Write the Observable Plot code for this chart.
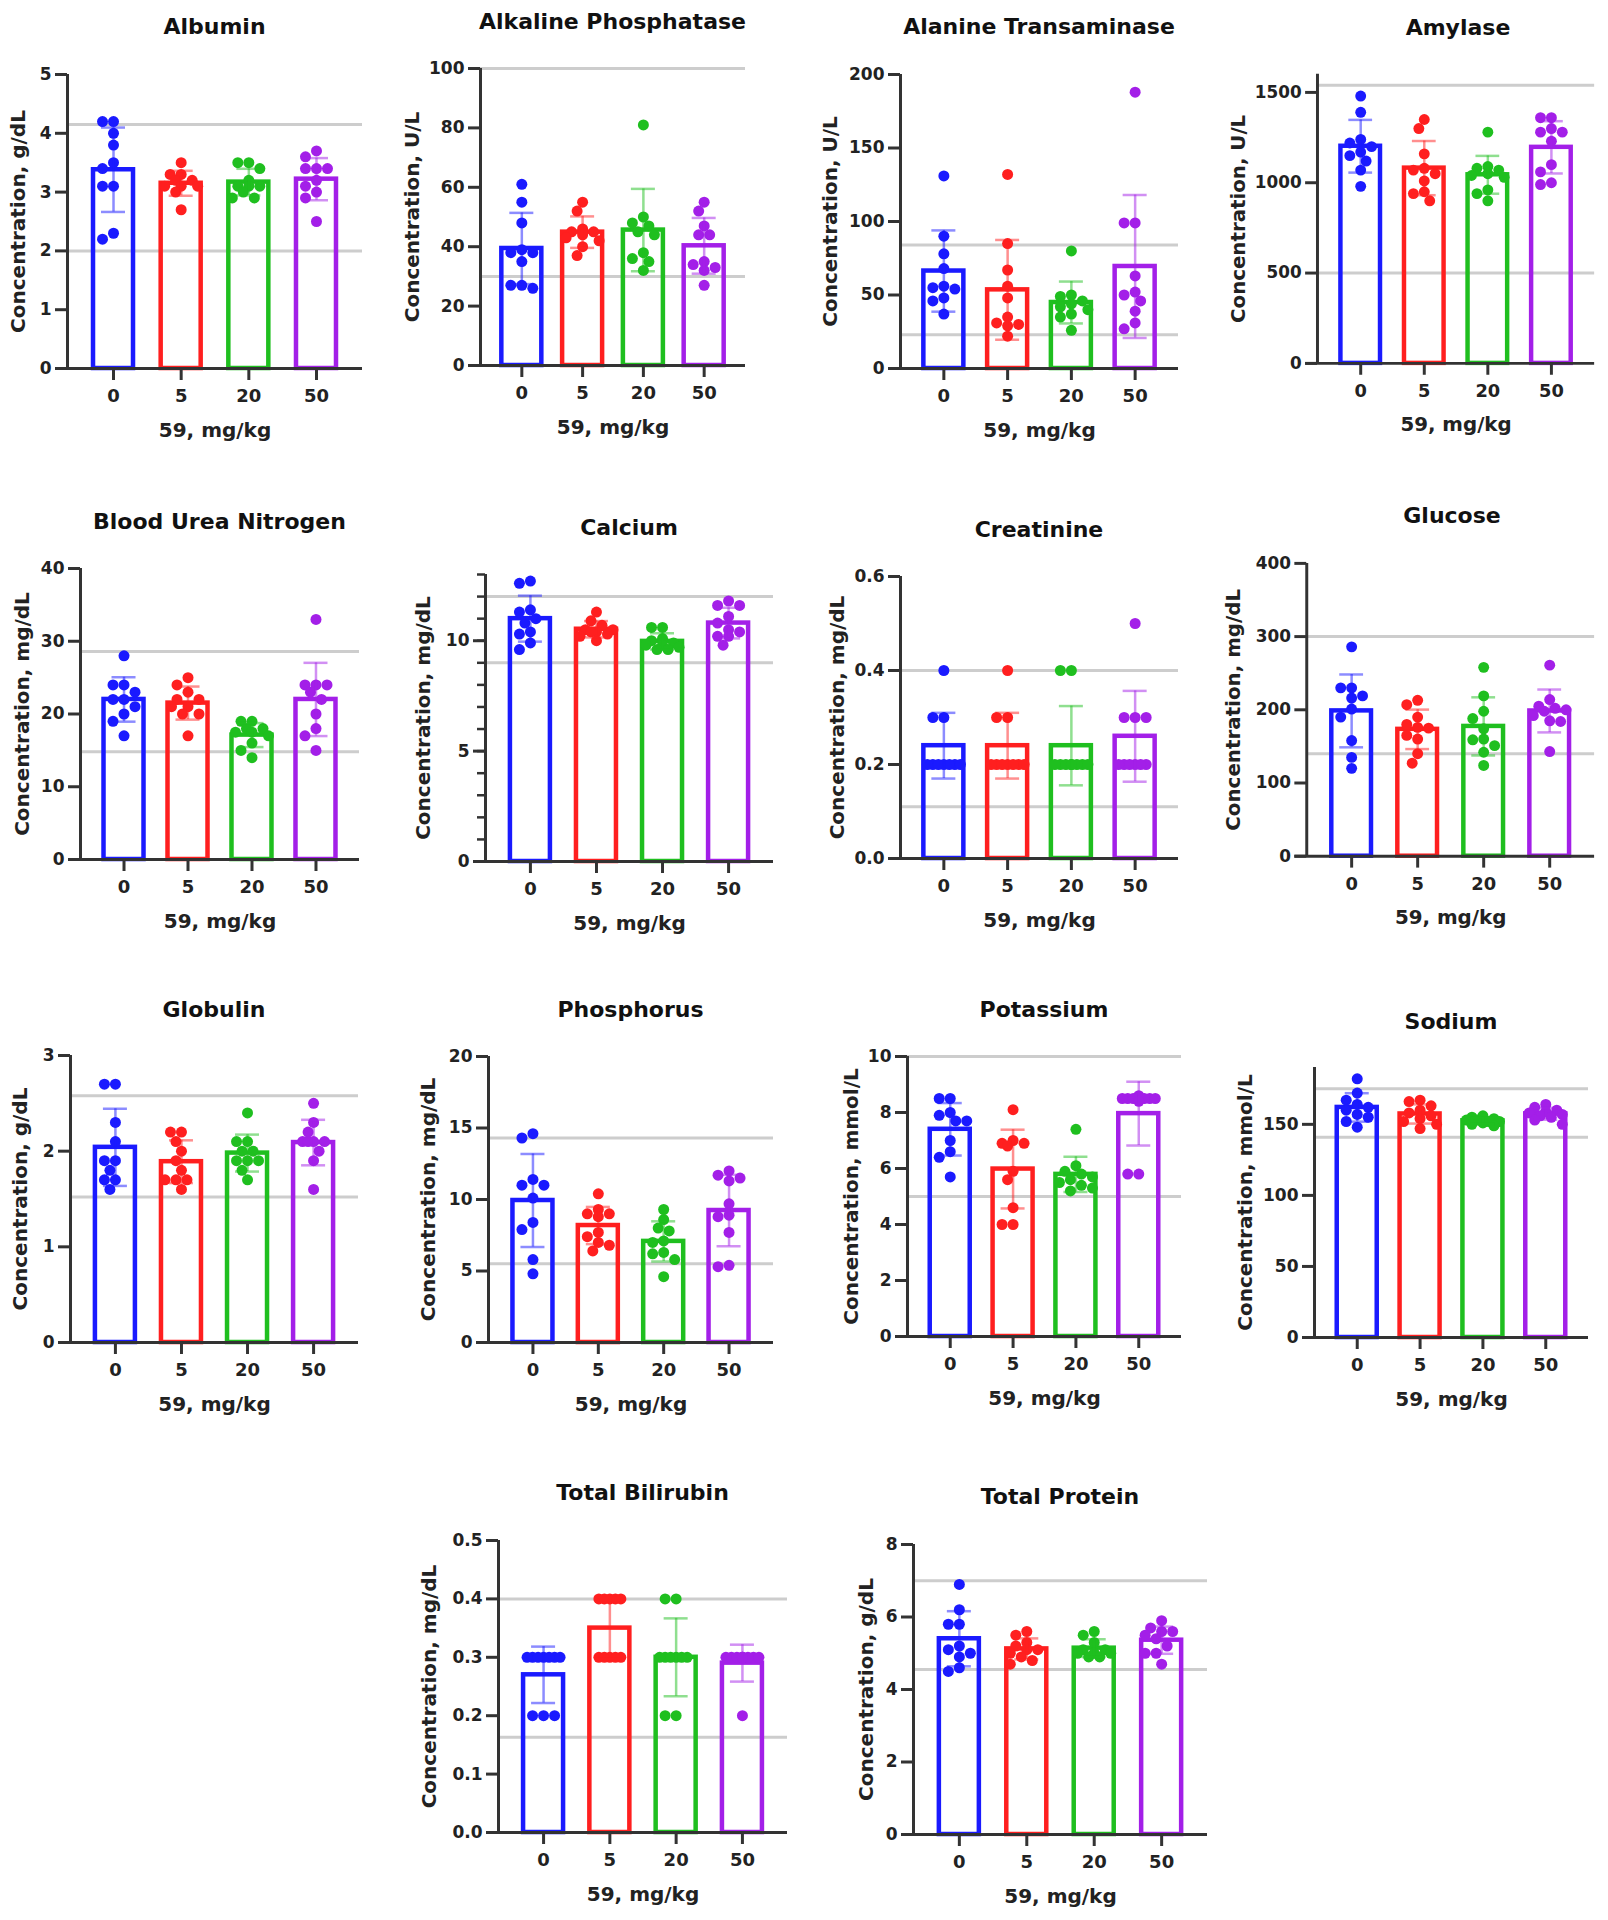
<!DOCTYPE html>
<html>
<head>
<meta charset="utf-8">
<script src="https://cdn.jsdelivr.net/npm/d3@7"></script>
<script src="https://cdn.jsdelivr.net/npm/@observablehq/plot@0.6"></script>
<style>
  body { margin: 0; background: #fff; }
  #page { position: relative; width: 1608px; height: 1920px; overflow: hidden; background: #fff;
          font-family: "DejaVu Sans", Verdana, sans-serif; }
  .panel { position: absolute; }
  .title { position: absolute; width: 440px; text-align: center; font-weight: bold; font-size: 22px;
           line-height: 30px; color: #111; white-space: nowrap; }
</style>
</head>
<body>
<div id="page"></div>
<script>
// ---------------- DATA ----------------
const doses = ["0", "5", "20", "50"];
const xLabel = "59, mg/kg";

const titles = ["Albumin", "Alkaline Phosphatase", "Alanine Transaminase", "Amylase",
  "Blood Urea Nitrogen", "Calcium", "Creatinine", "Glucose",
  "Globulin", "Phosphorus", "Potassium", "Sodium",
  "Total Bilirubin", "Total Protein"];

const units = ["Concentration, g/dL", "Concentration, U/L", "Concentration, U/L", "Concentration, U/L",
  "Concentration, mg/dL", "Concentration, mg/dL", "Concentration, mg/dL", "Concentration, mg/dL",
  "Concentration, g/dL", "Concentration, mg/dL", "Concentration, mmol/L", "Concentration, mmol/L",
  "Concentration, mg/dL", "Concentration, g/dL"];

const yMax = [5, 100, 200, 1600, 40, 13, 0.6, 400, 3, 20, 10, 190, 0.5, 8];

const yTicks = [
  [0, 1, 2, 3, 4, 5], [0, 20, 40, 60, 80, 100], [0, 50, 100, 150, 200], [0, 500, 1000, 1500],
  [0, 10, 20, 30, 40], [0, 5, 10], [0, 0.2, 0.4, 0.6], [0, 100, 200, 300, 400],
  [0, 1, 2, 3], [0, 5, 10, 15, 20], [0, 2, 4, 6, 8, 10], [0, 50, 100, 150],
  [0, 0.1, 0.2, 0.3, 0.4, 0.5], [0, 2, 4, 6, 8]];

const yDecimals = [0, 0, 0, 0, 0, 0, 1, 0, 0, 0, 0, 0, 1, 0];
const calciumMinorTicks = [0, 1, 2, 3, 4, 5, 6, 7, 8, 9, 10, 11, 12, 13];

// grey normal-range reference lines (upper, lower)
const refLines = [[4.15, 2.0], [100, 30], [84, 23], [1540, 500], [28.6, 14.8], [12, 9], [0.4, 0.11],
  [300, 140], [2.58, 1.52], [14.3, 5.5], [10, 5], [175, 141], [0.4, 0.163], [7.0, 4.55]];

// individual animal values, one array per dose group (0, 5, 20, 50 mg/kg)
const albumin = [
  [4.2, 4.2, 4.0, 3.8, 3.5, 3.4, 3.1, 3.1, 2.3, 2.2],
  [3.5, 3.3, 3.3, 3.2, 3.2, 3.1, 3.1, 3.1, 3.0, 2.7],
  [3.5, 3.5, 3.4, 3.2, 3.1, 3.1, 3.1, 3.0, 2.9, 2.9],
  [3.7, 3.6, 3.4, 3.4, 3.4, 3.2, 3.1, 3.0, 2.9, 2.5]];
const alkalinePhosphatase = [
  [61, 55, 48, 39, 38, 38, 35, 27, 27, 26],
  [55, 52, 46, 45, 45, 44, 43, 42, 40, 37],
  [81, 50, 48, 47, 45, 44, 38, 36, 35, 32],
  [55, 52, 47, 44, 44, 35, 34, 33, 32, 27]];
const alanineTransaminase = [
  [131, 90, 78, 68, 56, 55, 54, 48, 46, 37],
  [132, 85, 67, 56, 48, 35, 31, 30, 29, 22],
  [80, 50, 49, 46, 44, 42, 40, 37, 35, 26],
  [188, 99, 99, 63, 52, 50, 46, 39, 31, 27]];
const amylase = [
  [1480, 1390, 1240, 1220, 1200, 1170, 1150, 1120, 1070, 980],
  [1350, 1300, 1160, 1080, 1070, 1050, 1010, 950, 940, 900],
  [1280, 1090, 1080, 1070, 1050, 1040, 1030, 960, 940, 900],
  [1360, 1360, 1300, 1280, 1280, 1230, 1100, 1060, 1000, 990]];
const bloodUreaNitrogen = [
  [28, 24, 24, 23, 22, 22, 21, 20, 19, 17],
  [25, 24, 23, 22, 22, 21, 21, 20, 20, 17],
  [19, 19, 18, 18, 17.5, 17.5, 17, 16, 15, 14],
  [33, 24, 24, 24, 23, 22, 20, 18, 17, 15]];
const calcium = [
  [12.7, 12.6, 11.4, 11.3, 11.0, 10.8, 10.4, 10.3, 9.9, 9.6],
  [11.3, 10.9, 10.7, 10.5, 10.5, 10.4, 10.4, 10.3, 10.2, 10.0],
  [10.6, 10.6, 10.1, 10.0, 9.9, 9.8, 9.8, 9.7, 9.6, 9.6],
  [11.8, 11.6, 11.6, 11.1, 10.8, 10.5, 10.4, 10.2, 10.2, 9.8]];
const creatinine = [
  [0.4, 0.3, 0.3, 0.2, 0.2, 0.2, 0.2, 0.2, 0.2, 0.2],
  [0.4, 0.3, 0.3, 0.2, 0.2, 0.2, 0.2, 0.2, 0.2, 0.2],
  [0.4, 0.4, 0.2, 0.2, 0.2, 0.2, 0.2, 0.2, 0.2, 0.2],
  [0.5, 0.3, 0.3, 0.3, 0.2, 0.2, 0.2, 0.2, 0.2, 0.2]];
const glucose = [
  [286, 230, 230, 219, 216, 201, 190, 158, 135, 120],
  [213, 207, 190, 180, 176, 175, 165, 160, 140, 127],
  [258, 219, 198, 188, 174, 160, 159, 151, 142, 124],
  [261, 214, 205, 202, 200, 198, 192, 185, 184, 143]];
const globulin = [
  [2.7, 2.7, 2.3, 2.1, 1.9, 1.9, 1.8, 1.7, 1.7, 1.6],
  [2.2, 2.2, 2.1, 2.0, 1.9, 1.8, 1.7, 1.7, 1.7, 1.6],
  [2.4, 2.1, 2.1, 2.0, 2.0, 1.9, 1.9, 1.9, 1.8, 1.7],
  [2.5, 2.3, 2.2, 2.1, 2.1, 2.1, 2.1, 2.0, 1.9, 1.6]];
const phosphorus = [
  [14.6, 14.3, 11.4, 11.0, 11.0, 10.1, 8.4, 7.9, 5.8, 4.8],
  [10.4, 9.3, 9.0, 9.0, 8.8, 7.7, 7.4, 7.0, 6.8, 6.4],
  [9.3, 8.6, 8.0, 7.8, 7.1, 7.0, 6.3, 6.2, 5.8, 4.6],
  [12.0, 11.7, 11.5, 11.3, 9.7, 8.9, 8.8, 7.7, 5.4, 5.3]];
const potassium = [
  [8.5, 8.5, 8.0, 7.9, 7.7, 7.7, 7.0, 6.6, 6.4, 5.7],
  [8.1, 7.0, 6.9, 6.9, 6.8, 5.9, 5.6, 4.6, 4.0, 4.0],
  [7.4, 6.1, 5.9, 5.8, 5.7, 5.6, 5.5, 5.4, 5.3, 5.2],
  [8.6, 8.5, 8.5, 8.5, 8.5, 8.5, 8.5, 8.4, 5.8, 5.8]];
const sodium = [
  [182, 172, 167, 164, 162, 160, 157, 155, 152, 148],
  [167, 166, 163, 160, 158, 156, 154, 152, 150, 147],
  [156, 155, 154, 153, 153, 152, 152, 151, 150, 149],
  [164, 162, 160, 159, 158, 157, 156, 155, 153, 150]];
const totalBilirubin = [
  [0.3, 0.3, 0.3, 0.3, 0.3, 0.3, 0.3, 0.2, 0.2, 0.2],
  [0.4, 0.4, 0.4, 0.4, 0.4, 0.3, 0.3, 0.3, 0.3, 0.3],
  [0.4, 0.4, 0.3, 0.3, 0.3, 0.3, 0.3, 0.3, 0.2, 0.2],
  [0.3, 0.3, 0.3, 0.3, 0.3, 0.3, 0.3, 0.3, 0.3, 0.2]];
const totalProtein = [
  [6.9, 6.2, 5.8, 5.8, 5.2, 5.1, 5.0, 4.9, 4.6, 4.5],
  [5.6, 5.5, 5.3, 5.2, 5.1, 5.1, 5.0, 4.9, 4.8, 4.7],
  [5.6, 5.5, 5.3, 5.1, 5.1, 5.0, 5.0, 5.0, 4.9, 4.9],
  [5.9, 5.7, 5.6, 5.6, 5.5, 5.4, 5.2, 5.0, 5.0, 4.7]];

const series = [albumin, alkalinePhosphatase, alanineTransaminase, amylase,
  bloodUreaNitrogen, calcium, creatinine, glucose,
  globulin, phosphorus, potassium, sodium,
  totalBilirubin, totalProtein];

// ---------------- LAYOUT / STYLE ----------------
// [y-axis x, x-axis right end, top of y axis, y of zero, title centre y, y-label distance]
const layout = [
  [67, 362, 74, 368, 27, 49], [480, 745, 68, 365, 22, 68], [900, 1178, 74, 368, 27, 70], [1318, 1598, 74, 366, 28, 80],
  [80, 359, 568, 859, 522, 58], [485, 773, 574, 861, 528, 62], [900, 1178, 576, 858, 530, 63], [1307, 1597, 563, 858, 516, 74],
  [70, 358, 1055, 1342, 1010, 50], [488, 773, 1056, 1342, 1010, 60], [907, 1181, 1056, 1336, 1010, 56], [1314, 1588, 1067, 1337, 1022, 69],
  [498, 787, 1540, 1832, 1493, 69], [913, 1207, 1544, 1834, 1497, 47]];

const colors = ["#1a1aff", "#ff1f1f", "#1fbf1f", "#a31fe8"];
const XD = [-0.68, 3.68];
const AX = "#333333";
const FONT = '"DejaVu Sans", Verdana, sans-serif';
const R = 5.5;

// deterministic beeswarm offsets (pixels) so dots do not pile on top of each other
function swarm(vals, ppu, D, maxS) {
  const step = D / 2;
  const cands = [0];
  for (let k = 1; k * step <= maxS + 0.01; k++) cands.push(-k * step, k * step);
  const order = d3.range(vals.length).sort((a, b) => vals[b] - vals[a]);
  const placed = [], off = new Array(vals.length).fill(0);
  for (const i of order) {
    const py = vals[i] * ppu;
    let best = 0, bestScore = -1;
    for (const c of cands) {
      let m = Infinity;
      for (const p of placed) m = Math.min(m, Math.hypot(c - p[0], py - p[1]));
      if (m >= D * 0.9) { best = c; bestScore = Infinity; break; }
      if (m > bestScore + 0.5) { bestScore = m; best = c; }
    }
    placed.push([best, py]);
    off[i] = best;
  }
  return off;
}

const page = document.getElementById("page");

series.forEach((groups, p) => {
  const [axisX, xEnd, yTop, y0, titleY, labDist] = layout[p];
  const fw = xEnd - axisX, fh = y0 - yTop;
  const ML = 100, MR = 14, MT = 14, MB = 90;
  const spacing = fw / (XD[1] - XD[0]);
  const ppu = fh / yMax[p];
  const hw = 20 / spacing, cap = 12 / spacing;

  const summary = groups.map((vals, i) => ({i, mean: d3.mean(vals), sd: d3.deviation(vals)}));
  const fmt = yDecimals[p] ? d3.format(".1f") : d3.format("d");

  const marks = [Plot.ruleY(refLines[p], {stroke: "#cdcdcd", strokeWidth: 3})];

  groups.forEach((vals, i) => {
    const c = colors[i];
    const off = swarm(vals, ppu, 2 * R, 18);
    const pts = vals.map((v, k) => ({i, v, x: i + off[k] / spacing}));
    marks.push(
      Plot.rect([summary[i]], {x1: d => d.i - hw, x2: d => d.i + hw, y1: () => 0, y2: d => d.mean,
        fill: "none", stroke: c, strokeWidth: 4.5}),
      Plot.dot(pts, {x: "x", y: "v", r: R, fill: c, stroke: "none"}),
      Plot.ruleX([summary[i]], {x: "i", y1: d => d.mean - d.sd, y2: d => d.mean + d.sd,
        stroke: c, strokeOpacity: 0.5, strokeWidth: 2.5}),
      Plot.ruleY([summary[i]], {y: d => d.mean + d.sd, x1: d => d.i - cap, x2: d => d.i + cap,
        stroke: c, strokeOpacity: 0.5, strokeWidth: 2.5}),
      Plot.ruleY([summary[i]], {y: d => d.mean - d.sd, x1: d => d.i - cap, x2: d => d.i + cap,
        stroke: c, strokeOpacity: 0.5, strokeWidth: 2.5})
    );
  });

  if (p === 5) {
    marks.push(Plot.axisY({ticks: calciumMinorTicks, tickSize: 8, tickFormat: () => "", strokeWidth: 2.5,
      stroke: AX, label: null}));
  }
  marks.push(
    Plot.ruleX([XD[0]], {stroke: AX, strokeWidth: 3}),
    Plot.ruleY([0], {stroke: AX, strokeWidth: 3, insetLeft: -12}),
    Plot.axisY({ticks: yTicks[p], tickSize: 12, tickPadding: 4, tickFormat: fmt, strokeWidth: 3,
      stroke: AX, fill: "#222", fontSize: 17, fontWeight: "bold", label: null}),
    Plot.axisX({ticks: [0, 1, 2, 3], tickFormat: i => doses[i], tickSize: 12, tickPadding: 9, strokeWidth: 3,
      stroke: AX, fill: "#222", fontSize: 18, fontWeight: "bold", label: null}),
    Plot.text([units[p]], {frameAnchor: "left", textAnchor: "middle", rotate: -90, dx: -labDist, fontSize: 20,
      fontWeight: "bold", fill: "#222"}),
    Plot.text([xLabel], {frameAnchor: "bottom", textAnchor: "middle", dy: 68, fontSize: 20, fontWeight: "bold", fill: "#222"})
  );

  const chart = Plot.plot({
    width: ML + fw + MR,
    height: MT + fh + MB,
    marginLeft: ML, marginRight: MR, marginTop: MT, marginBottom: MB,
    x: {type: "linear", domain: XD},
    y: {type: "linear", domain: [0, yMax[p]]},
    style: {fontFamily: FONT, fontWeight: "bold", fontSize: "17px", color: "#222",
      background: "transparent", overflow: "visible"},
    marks
  });

  const div = document.createElement("div");
  div.className = "panel";
  div.style.left = (axisX - ML) + "px";
  div.style.top = (yTop - MT) + "px";
  div.appendChild(chart);
  page.appendChild(div);

  const t = document.createElement("div");
  t.className = "title";
  t.textContent = titles[p];
  t.style.left = ((axisX + xEnd) / 2 - 220) + "px";
  t.style.top = (titleY - 15) + "px";
  page.appendChild(t);
});
</script>
</body>
</html>
